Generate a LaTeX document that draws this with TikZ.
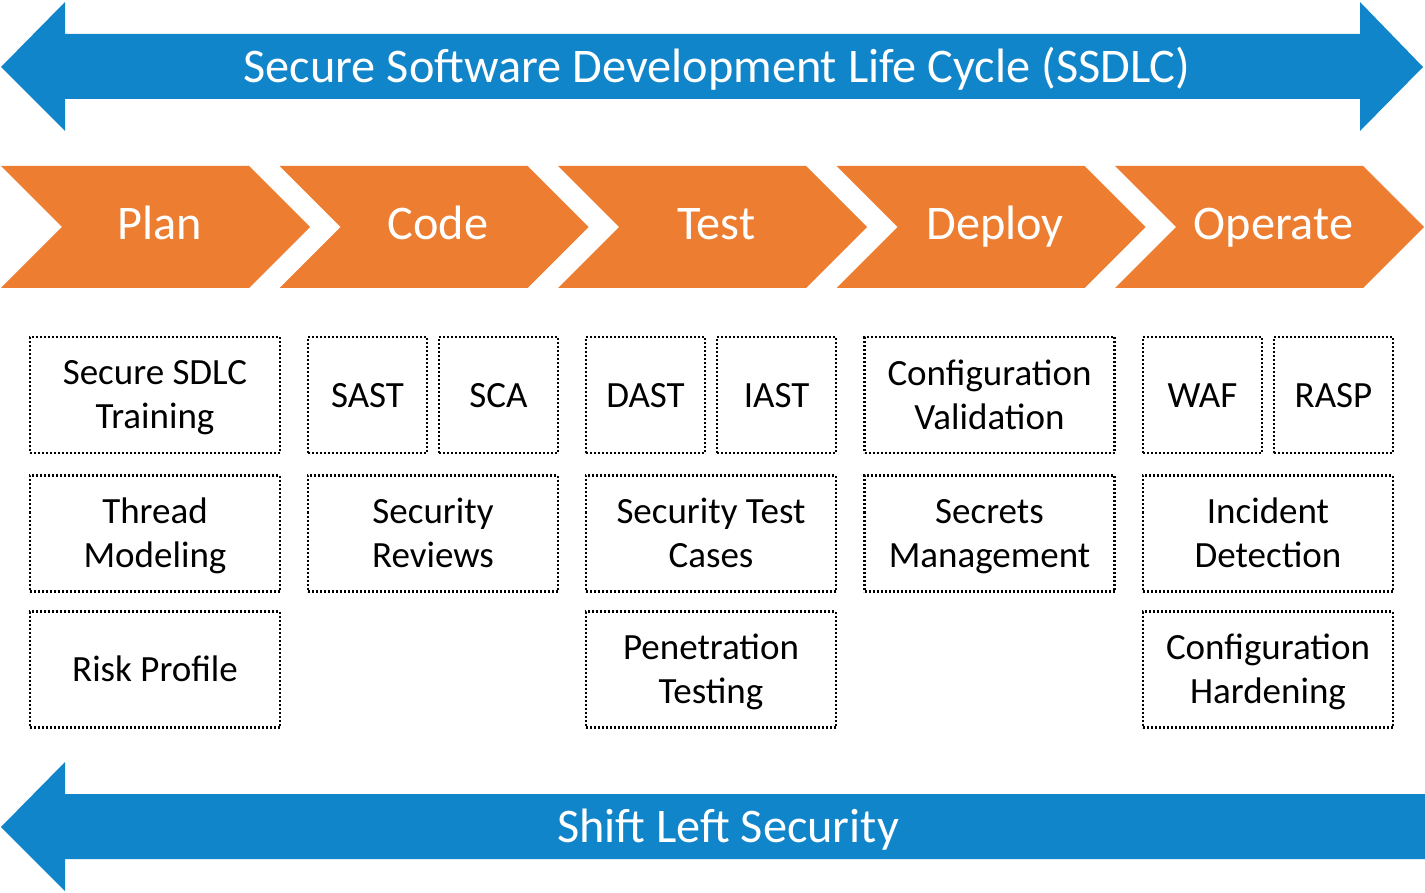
\documentclass[tikz,border=0pt]{standalone}
\usepackage{fontspec}
\setmainfont{Carlito}
\definecolor{ssblue}{HTML}{1185CA}
\definecolor{ssorange}{HTML}{ED7D31}
\newcommand\ssst{\rule[-6pt]{0pt}{36pt}}
\begin{document}
\begin{tikzpicture}[x=1pt,y=-1pt,
  bigtext/.style={text=white,inner sep=0pt,font=\fontsize{48.3}{58}\selectfont},
  item/.style={draw=black,line width=2.8pt,dash pattern=on 2pt off 2pt,
    minimum width=250pt,minimum height=116pt,inner sep=0pt,align=center,
    text=black,font=\fontsize{37}{44}\selectfont},
  half/.style={item,minimum width=119pt}]
\useasboundingbox (0,0) rectangle (1425,893);
% top double arrow
\fill[ssblue] (1,67) -- (65,2) -- (65,34) -- (1360,34) -- (1360,2) -- (1423,67)
  -- (1360,131) -- (1360,99) -- (65,99) -- (65,131) -- cycle;
\node[bigtext,anchor=base] (title) at (717,83) {Secure Software Development Life Cycle (SSDLC)};
% bottom arrow
\fill[ssblue] (1,827) -- (65,762) -- (65,794) -- (1425,794) -- (1425,859)
  -- (65,859) -- (65,891) -- cycle;
\node[bigtext,anchor=base] (shift) at (728,842) {Shift Left Security};
% chevrons
\foreach \i/\t in {0/Plan,1/Code,2/Test,3/Deploy,4/Operate}{
  \pgfmathsetmacro{\xo}{1+278.5*\i}
  \fill[ssorange] (\xo,166) -- (\xo+248,166) -- (\xo+309,227) -- (\xo+248,288)
    -- (\xo,288) -- (\xo+61,227) -- cycle;
  \node[bigtext,anchor=base] (ph\i) at (\xo+158.5,240) {\t};
}
% Plan column
\node[item] (sdlc) at (155,395) {\ssst Secure SDLC\\Training\ssst};
\node[item] (thread) at (155,533.5) {\ssst Thread\\Modeling\ssst};
\node[item] (risk) at (155,669.5) {\ssst Risk Profile};
% Code column
\node[half] (sast) at (367.5,395) {\ssst SAST};
\node[half] (sca) at (498.5,395) {\ssst SCA};
\node[item] (reviews) at (433,533.5) {\ssst Security\\Reviews\ssst};
% Test column
\node[half] (dast) at (645.5,395) {\ssst DAST};
\node[half] (iast) at (776.5,395) {\ssst IAST};
\node[item] (cases) at (711,533.5) {\ssst Security Test\\Cases\ssst};
\node[item] (pen) at (711,669.5) {\ssst Penetration\\Testing\ssst};
% Deploy column
\node[item] (confval) at (989.5,395) {\ssst Configuration\\Validation\ssst};
\node[item] (secrets) at (989.5,533.5) {\ssst Secrets\\Management\ssst};
% Operate column
\node[half] (waf) at (1202.5,395) {\ssst WAF};
\node[half] (rasp) at (1333.5,395) {\ssst RASP};
\node[item] (incident) at (1268,533.5) {\ssst Incident\\Detection\ssst};
\node[item] (harden) at (1268,669.5) {\ssst Configuration\\Hardening\ssst};
\end{tikzpicture}
\end{document}
